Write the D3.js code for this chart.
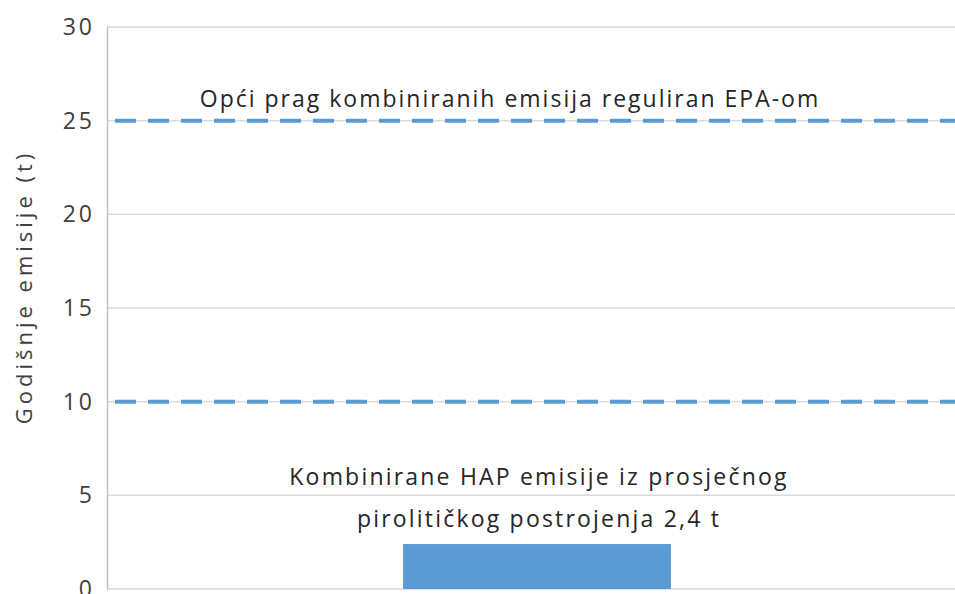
<!DOCTYPE html>
<html>
<head>
<meta charset="utf-8">
<script src="https://cdn.jsdelivr.net/npm/d3@7"></script>
<style>
  body { margin: 0; background: #fff; }
  text { font-family: "Open Sans", "Noto Sans", sans-serif; }
</style>
</head>
<body>
<div id="chart"></div>
<script>
// data
const categories = ['Pirolitičko postrojenje'];
const values = [2.4];
const thresholds = [25, 10];
const thresholdLabel = 'Opći prag kombiniranih emisija reguliran EPA-om';
const barLabel = ['Kombinirane HAP emisije iz prosječnog', 'pirolitičkog postrojenja 2,4 t'];
const yTicks = [0, 5, 10, 15, 20, 25, 30];
const yTitle = 'Godišnje emisije (t)';

const width = 955;
const height = 594;
const margin = { top: 27, right: -12, bottom: 5, left: 107 };

const svg = d3.select('#chart')
    .append('svg')
    .attr('width', width)
    .attr('height', height);

const x = d3.scaleBand()
    .domain(categories)
    .range([margin.left, width - margin.right])
    .padding(0.525);

const y = d3.scaleLinear()
    .domain([0, 30])
    .range([height - margin.bottom, margin.top]);

// gridlines
svg.append('g')
    .selectAll('line')
    .data(yTicks)
    .enter()
    .append('line')
    .attr('x1', margin.left)
    .attr('x2', width - margin.right)
    .attr('y1', d => y(d))
    .attr('y2', d => y(d))
    .attr('stroke', '#d9d9d9')
    .attr('stroke-width', 1.5);

// y axis
const yAxis = svg.append('g')
    .attr('transform', `translate(${margin.left},0)`)
    .call(d3.axisLeft(y).tickValues(yTicks).tickSize(0).tickPadding(12));
yAxis.select('.domain').attr('stroke', '#bfbfbf').attr('stroke-width', 1.5);
yAxis.selectAll('text')
    .attr('fill', '#404040')
    .style('font-size', '23px')
    .style('letter-spacing', '3px');

svg.append('text')
    .attr('transform', `translate(32, 287) rotate(-90)`)
    .attr('text-anchor', 'middle')
    .attr('fill', '#404040')
    .style('font-size', '22px')
    .style('letter-spacing', '4px')
    .text(yTitle);

// bar
svg.selectAll('.bar')
    .data(values)
    .enter()
    .append('rect')
    .attr('class', 'bar')
    .attr('x', (d, i) => x(categories[i]))
    .attr('width', x.bandwidth())
    .attr('y', d => y(d))
    .attr('height', d => y(0) - y(d))
    .attr('fill', '#5b9bd5');

// threshold lines
svg.selectAll('.threshold')
    .data(thresholds)
    .enter()
    .append('line')
    .attr('class', 'threshold')
    .attr('x1', margin.left + 8)
    .attr('x2', width - margin.right)
    .attr('y1', d => y(d))
    .attr('y2', d => y(d))
    .attr('stroke', '#5b9bd5')
    .attr('stroke-width', 4)
    .attr('stroke-dasharray', '21 12');

// labels
svg.append('text')
    .attr('x', 510)
    .attr('y', y(thresholds[0]) - 14)
    .attr('text-anchor', 'middle')
    .attr('fill', '#262626')
    .style('font-size', '23px')
    .style('letter-spacing', '2px')
    .text(thresholdLabel);

const bx = x(categories[0]) + x.bandwidth() / 2;
svg.append('g')
    .selectAll('text')
    .data(barLabel)
    .enter()
    .append('text')
    .attr('x', bx + 2)
    .attr('y', (d, i) => y(values[0]) - 59 + i * 42)
    .attr('text-anchor', 'middle')
    .attr('fill', '#262626')
    .style('font-size', '23px')
    .style('letter-spacing', '2.2px')
    .text(d => d);
</script>
</body>
</html>
